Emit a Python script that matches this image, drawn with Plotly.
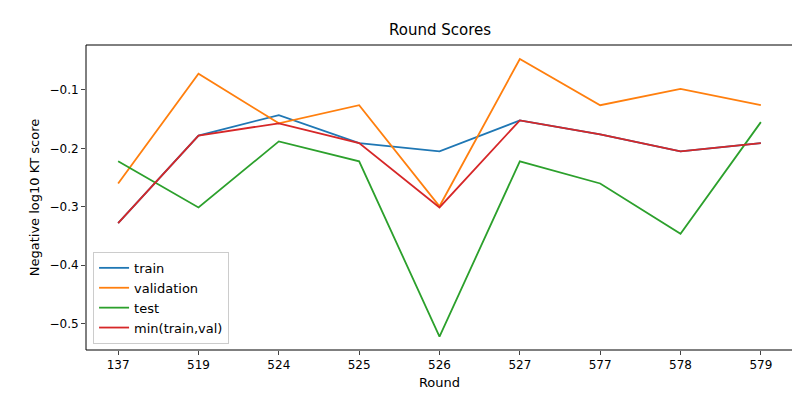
import plotly.graph_objects as go

rounds = ["137", "519", "524", "525", "526", "527", "577", "578", "579"]
train = [-0.328, -0.178, -0.143, -0.191, -0.205, -0.152, -0.176, -0.205, -0.191]
validation = [-0.260, -0.072, -0.157, -0.126, -0.299, -0.047, -0.126, -0.098, -0.126]
test = [-0.222, -0.301, -0.188, -0.222, -0.522, -0.222, -0.260, -0.346, -0.155]
min_tv = [-0.328, -0.178, -0.157, -0.191, -0.301, -0.152, -0.176, -0.205, -0.191]

x = list(range(len(rounds)))
fig = go.Figure()
for name, ys, c in [("train", train, "#1f77b4"), ("validation", validation, "#ff7f0e"),
                    ("test", test, "#2ca02c"), ("min(train,val)", min_tv, "#d62728")]:
    fig.add_trace(go.Scatter(x=x, y=ys, mode="lines", name=name, line=dict(color=c, width=1.8)))

axis = dict(showline=False, ticks="outside", ticklen=4, showgrid=False, zeroline=False,
            automargin=False, tickfont=dict(size=12, color="black"))
fig.update_layout(
    width=800, height=400, plot_bgcolor="white", paper_bgcolor="white",
    font=dict(family="DejaVu Sans", size=12, color="black"),
    title=dict(text="Round Scores", x=0.54, xanchor="center", yref="container", y=0.945,
               yanchor="middle", font=dict(size=15)),
    margin=dict(l=78, r=15, t=37, b=58, autoexpand=False),
    xaxis=dict(**axis, tickvals=x, ticktext=rounds, range=[-0.4, 8.4],
               title=dict(text="Round", standoff=6, font=dict(size=13))),
    yaxis=dict(**axis, tickvals=[-0.5, -0.4, -0.3, -0.2, -0.1], range=[-0.545, -0.023],
               title=dict(text="Negative log10 KT score", standoff=6, font=dict(size=13))),
    legend=dict(x=0.01, y=0.02, xanchor="left", yanchor="bottom", bordercolor="#cccccc",
                borderwidth=1, bgcolor="white", font=dict(size=13)),
    shapes=[dict(type="rect", xref="paper", yref="paper", x0=0, y0=0, x1=1, y1=1,
                 line=dict(color="black", width=1), layer="above")],
)
fig.write_html("out.html")
